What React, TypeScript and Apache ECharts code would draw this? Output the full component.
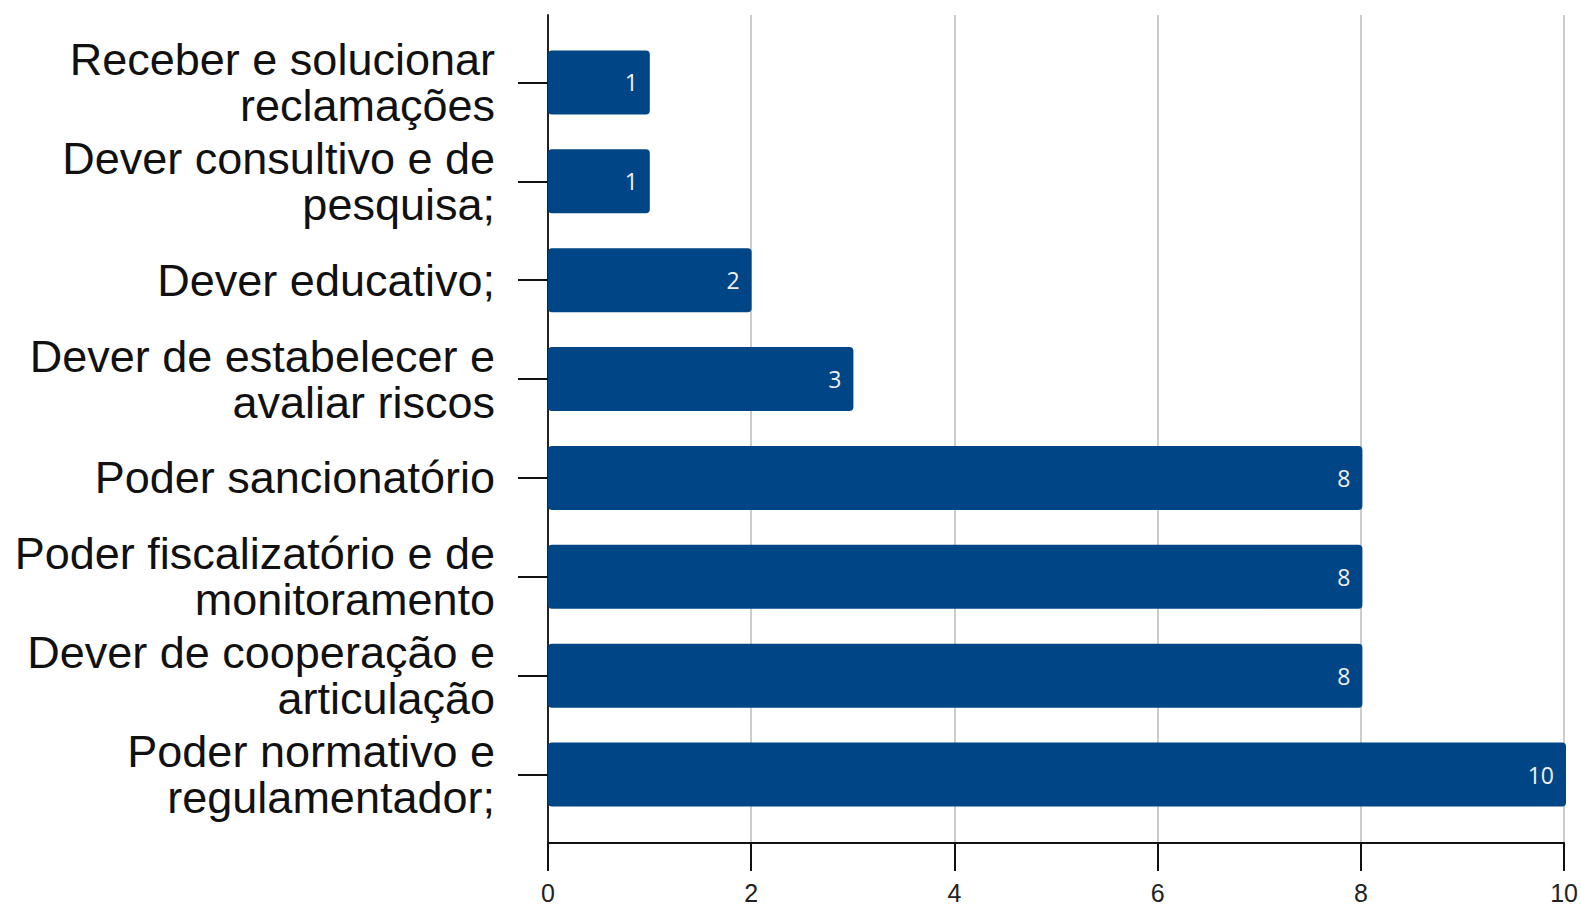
import React, { useEffect, useRef } from "react";
import * as echarts from "echarts";

const categories = [
  "Receber e solucionar\nreclamações",
  "Dever consultivo e de\npesquisa;",
  "Dever educativo;",
  "Dever de estabelecer e\navaliar riscos",
  "Poder sancionatório",
  "Poder fiscalizatório e de\nmonitoramento",
  "Dever de cooperação e\narticulação",
  "Poder normativo e\nregulamentador;",
];
const values = [1, 1, 2, 3, 8, 8, 8, 10];
const xMin = 0;
const xMax = 10;
const xInterval = 2;

export default function App() {
  const ref = useRef<HTMLDivElement>(null);
  useEffect(() => {
    if (!ref.current) return;
    const chart = echarts.init(ref.current, null, { renderer: "svg" });
    chart.setOption({
      animation: false,
      backgroundColor: "#ffffff",
      grid: [
        { left: 548, right: 15, top: 33, bottom: 83 },
        { left: 548, right: 15, top: 15, bottom: 64 },
      ],
      xAxis: [
        { gridIndex: 0, type: "value", min: xMin, max: xMax, interval: xInterval, show: false },
        {
          gridIndex: 1,
          type: "value",
          min: xMin,
          max: xMax,
          interval: xInterval,
          axisLine: { show: true, lineStyle: { color: "#111", width: 2 } },
          axisTick: { show: true, length: 28, lineStyle: { color: "#111", width: 2 } },
          axisLabel: {
            margin: 40,
            fontSize: 25,
            lineHeight: 20,
            color: "#222",
            fontFamily: "Liberation Sans",
          },
          splitLine: { show: true, lineStyle: { color: "#cccccc", width: 2 } },
        },
      ],
      yAxis: [
        {
          gridIndex: 0,
          type: "category",
          data: categories,
          inverse: true,
          axisLine: { show: false },
          axisTick: { show: true, alignWithLabel: true, length: 30, lineStyle: { color: "#111", width: 2 } },
          axisLabel: {
            margin: 53,
            fontSize: 45,
            lineHeight: 46,
            color: "#111",
            fontFamily: "Liberation Sans",
            align: "right",
            padding: [0, 0, 4, 0],
          },
          splitLine: { show: false },
        },
        {
          gridIndex: 1,
          type: "value",
          min: 0,
          max: 1,
          axisLine: { show: true, lineStyle: { color: "#222", width: 2 } },
          axisTick: { show: false },
          axisLabel: { show: false },
          splitLine: { show: false },
        },
      ],
      series: [
        {
          type: "bar",
          xAxisIndex: 0,
          yAxisIndex: 0,
          data: values,
          barWidth: 64,
          itemStyle: { color: "#004586", borderRadius: 4 },
          label: {
            show: true,
            position: "insideRight",
            distance: 12,
            color: "#f0f0f0",
            fontSize: 23,
            fontFamily: "Open Sans",
          },
        },
      ],
    });
    return () => chart.dispose();
  }, []);
  return (
    <div
      ref={ref}
      style={{ position: "absolute", left: 0, top: 0, width: 1581, height: 907 }}
    />
  );
}
